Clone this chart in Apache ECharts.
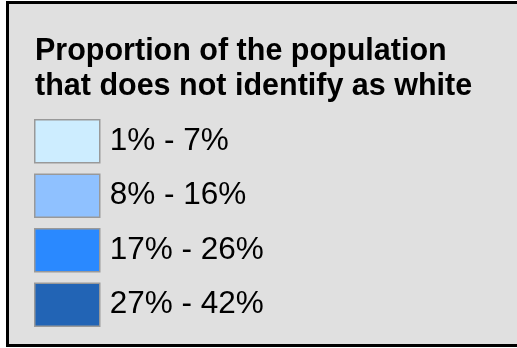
<!DOCTYPE html>
<html>
<head>
<meta charset="utf-8">
<script src="https://cdn.jsdelivr.net/npm/echarts@6/dist/echarts.min.js"></script>
<style>
  html, body { margin: 0; padding: 0; background: #fff; }
  #frame {
    position: absolute; left: 6px; top: 1px;
    width: 530px; height: 340px;
    border: 3px solid #000; background: #e0e0e0;
  }
  #chart { position: absolute; left: 0; top: 0; width: 517px; height: 348px; }
</style>
</head>
<body>
<div id="frame"></div>
<div id="chart"></div>
<script>
const titleLines = ['Proportion of the population', 'that does not identify as white']
const rangeLabels = ['1% - 7%', '8% - 16%', '17% - 26%', '27% - 42%']
const rangeColors = ['#cdedff', '#8fc1ff', '#2a89ff', '#2264b5']

const chart = echarts.init(document.getElementById('chart'))

chart.setOption({
  backgroundColor: 'transparent',
  animation: false,
  title: {
    text: titleLines.join('\n'),
    left: 35,
    top: 34,
    padding: 0,
    textStyle: {
      fontFamily: 'Liberation Sans, Arial, sans-serif',
      fontWeight: 'bold',
      fontSize: 30.5,
      lineHeight: 35,
      color: '#000'
    }
  },
  legend: {
    orient: 'vertical',
    left: 34,
    top: 119,
    padding: 0,
    itemWidth: 65,
    itemHeight: 43,
    itemGap: 10,
    icon: 'rect',
    selectedMode: false,
    itemStyle: { borderColor: '#999', borderWidth: 1.5 },
    textStyle: {
      fontFamily: 'Liberation Sans, Arial, sans-serif',
      fontSize: 31.5,
      color: '#000',
      padding: [2, 0, 0, 5]
    },
    data: rangeLabels
  },
  grid: { show: false },
  xAxis: { show: false, type: 'category', data: [] },
  yAxis: { show: false, type: 'value' },
  series: rangeLabels.map((name, i) => ({
    name: name,
    type: 'bar',
    data: [],
    itemStyle: { color: rangeColors[i] }
  }))
})
</script>
</body>
</html>
